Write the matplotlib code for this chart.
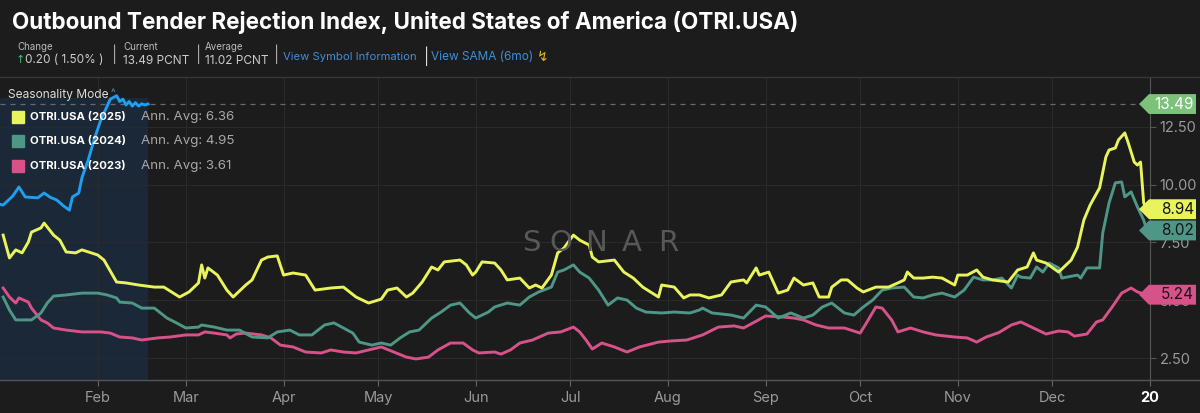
import matplotlib
matplotlib.use("Agg")
import matplotlib.pyplot as plt
from matplotlib.patches import Polygon, Rectangle
from matplotlib.lines import Line2D

plt.rcParams['font.family'] = ['Inter', 'DejaVu Sans']

# day of year (0 = Jan 1) and OTRI values
days_2025 = [1, 3, 5, 7, 9, 10, 13, 14, 17, 19, 21, 24, 26, 31, 33, 37, 40, 44, 49, 52,
             57, 60, 63, 64, 65, 66, 69, 72, 74, 78, 80, 83, 85, 88, 90, 93, 97, 100, 105, 109,
             113, 117, 121, 123, 126, 129, 131, 134, 137, 139, 141, 146, 148, 150, 151, 153, 157, 159, 161, 165,
             168, 170, 172, 175, 177, 179, 182, 184, 187, 188, 190, 195, 198, 201, 204, 209, 210, 214, 217, 219,
             222, 225, 229, 232, 236, 237, 240, 241, 244, 247, 250, 252, 255, 258, 260, 263, 264, 267, 269, 272,
             274, 278, 282, 285, 287, 288, 290, 293, 296, 299, 303, 304, 307, 310, 312, 315, 320, 323, 326, 328,
             329, 332, 336, 340, 342, 344, 346, 349, 351, 352, 354, 355, 357, 358, 360, 361, 362, 363, 364]
otri_2025 = [7.82, 6.83, 7.18, 7.05, 7.52, 7.95, 8.13, 8.34, 7.82, 7.6, 7.09, 7.05, 7.18, 6.96, 6.74, 5.79, 5.75, 5.66, 5.57, 5.57,
             5.14, 5.36, 5.75, 6.53, 5.96, 6.4, 6.09, 5.44, 5.14, 5.66, 5.88, 6.74, 6.87, 6.92, 6.09, 6.18, 6.09, 5.44, 5.53, 5.57,
             5.14, 4.88, 5.05, 5.44, 5.53, 5.14, 5.31, 5.79, 6.44, 6.31, 6.66, 6.74, 6.53, 6.09, 6.22, 6.66, 6.61, 6.31, 5.88, 5.96,
             5.53, 5.66, 5.53, 6.09, 7.05, 7.26, 7.82, 7.6, 7.39, 6.87, 6.66, 6.74, 6.22, 5.96, 5.57, 5.14, 5.66, 5.57, 5.1, 5.23,
             5.23, 5.1, 5.23, 5.79, 5.88, 5.75, 6.4, 6.09, 6.22, 5.31, 5.44, 5.96, 5.66, 5.75, 5.14, 5.14, 5.57, 5.88, 5.88, 5.53,
             5.36, 5.57, 5.57, 5.75, 5.88, 6.22, 5.96, 5.96, 6.0, 5.96, 5.66, 6.09, 6.09, 6.31, 6.0, 5.88, 5.79, 6.31, 6.44, 7.05,
             6.74, 6.61, 6.22, 6.74, 7.3, 8.47, 9.12, 9.86, 11.2, 11.5, 11.59, 11.94, 12.24, 11.85, 10.98, 10.85, 10.98, 9.21, 8.94]

days_2024 = [1, 3, 5, 10, 13, 15, 17, 21, 26, 31, 34, 37, 38, 42, 45, 49, 53, 56, 59, 63,
             64, 68, 72, 76, 80, 85, 88, 92, 95, 99, 103, 106, 109, 112, 114, 118, 121, 124, 127, 130,
             133, 137, 140, 143, 146, 149, 151, 155, 157, 161, 165, 168, 171, 175, 177, 179, 182, 184, 187, 190,
             193, 196, 199, 202, 205, 210, 214, 219, 222, 223, 226, 232, 236, 240, 243, 247, 251, 255, 258, 261,
             264, 268, 271, 274, 277, 280, 283, 287, 290, 293, 296, 299, 303, 306, 309, 312, 315, 318, 321, 323,
             324, 327, 329, 331, 333, 336, 337, 342, 343, 345, 349, 350, 352, 354, 356, 357, 359, 361, 363, 364]
otri_2024 = [5.14, 4.58, 4.15, 4.15, 4.45, 4.88, 5.18, 5.23, 5.31, 5.31, 5.23, 5.1, 4.92, 4.88, 4.66, 4.66, 4.23, 4.02, 3.8, 3.84,
             3.93, 3.84, 3.71, 3.71, 3.41, 3.37, 3.63, 3.71, 3.5, 3.5, 3.93, 4.02, 3.8, 3.58, 3.19, 3.06, 3.15, 3.06, 3.37, 3.63,
             3.71, 4.23, 4.49, 4.79, 4.88, 4.45, 4.23, 4.49, 4.71, 4.88, 4.79, 5.14, 5.36, 5.57, 6.22, 6.31, 6.53, 6.22, 5.96, 5.44,
             4.79, 5.1, 5.01, 4.66, 4.49, 4.45, 4.49, 4.45, 4.58, 4.66, 4.45, 4.36, 4.23, 4.79, 4.71, 4.23, 4.45, 4.23, 4.36, 4.71,
             4.88, 4.45, 4.36, 4.71, 5.01, 5.44, 5.53, 5.57, 5.14, 5.1, 5.23, 5.31, 5.14, 5.44, 6.0, 5.88, 5.88, 5.96, 5.53, 6.09,
             6.0, 5.96, 6.44, 6.22, 6.61, 6.4, 5.96, 6.09, 5.96, 6.4, 6.4, 7.91, 9.21, 10.08, 10.12, 9.47, 9.69, 9.04, 8.47, 8.02]

days_2023 = [1, 3, 5, 6, 9, 10, 13, 15, 17, 21, 26, 32, 35, 38, 42, 45, 50, 54, 59, 63,
             65, 68, 72, 73, 75, 78, 83, 86, 89, 93, 97, 102, 105, 109, 113, 117, 121, 125, 129, 132,
             136, 139, 143, 147, 150, 152, 157, 159, 162, 165, 169, 174, 178, 182, 184, 186, 188, 191, 195, 199,
             203, 209, 213, 218, 223, 228, 233, 236, 239, 243, 248, 252, 255, 259, 263, 268, 273, 275, 278, 280,
             283, 285, 289, 293, 297, 303, 307, 310, 313, 317, 321, 324, 328, 332, 336, 339, 341, 345, 348, 350,
             353, 356, 359, 361, 364]
otri_2023 = [5.53, 5.14, 4.88, 5.1, 4.92, 4.66, 4.15, 4.02, 3.8, 3.71, 3.63, 3.63, 3.58, 3.41, 3.37, 3.28, 3.37, 3.41, 3.5, 3.5,
             3.63, 3.58, 3.5, 3.37, 3.54, 3.58, 3.5, 3.37, 3.06, 2.98, 2.76, 2.72, 2.85, 2.76, 2.72, 2.85, 2.98, 2.76, 2.54, 2.46,
             2.54, 2.85, 3.15, 3.15, 2.85, 2.72, 2.76, 2.67, 2.85, 3.15, 3.28, 3.58, 3.63, 3.84, 3.63, 3.28, 2.89, 3.15, 2.98, 2.76,
             2.98, 3.19, 3.24, 3.28, 3.5, 3.84, 3.89, 3.8, 4.02, 4.32, 4.28, 4.23, 4.15, 3.93, 3.8, 3.8, 3.58, 4.02, 4.71, 4.66,
             4.15, 3.63, 3.8, 3.63, 3.5, 3.41, 3.37, 3.19, 3.41, 3.6, 3.93, 4.06, 3.8, 3.54, 3.67, 3.63, 3.45, 3.54, 4.06, 4.15,
             4.71, 5.31, 5.53, 5.36, 5.24]

days_2026 = [0, 1, 4, 6, 8, 10, 12, 14, 16, 18, 20, 22, 23, 25, 26, 28, 30, 32, 35, 37,
             38, 39, 40, 41, 42, 43, 44, 45, 46, 47]
otri_2026 = [9.15, 9.12, 9.5, 9.9, 9.47, 9.45, 9.43, 9.64, 9.45, 9.34, 9.1, 8.9, 9.47, 9.64, 10.3, 11.07, 12.0, 12.8, 13.7, 13.85,
             13.6, 13.7, 13.45, 13.6, 13.4, 13.55, 13.4, 13.5, 13.45, 13.49]

month_ticks = [31, 59, 90, 120, 151, 181, 212, 243, 273, 304, 334, 365]
month_labels = ['Feb', 'Mar', 'Apr', 'May', 'Jun', 'Jul', 'Aug', 'Sep', 'Oct', 'Nov', 'Dec', '20']
y_ticks = [2.5, 5.0, 7.5, 10.0, 12.5]

legend_names = ['OTRI.USA (2025)', 'OTRI.USA (2024)', 'OTRI.USA (2023)']
legend_avgs = ['Ann. Avg: 6.36', 'Ann. Avg: 4.95', 'Ann. Avg: 3.61']

BG = '#1c1c1c'
YELLOW = '#e9f45c'
TEAL = '#4e9686'
PINK = '#d8528a'
BLUE = '#1f9ff0'
GREEN = '#7cc27a'

W, H = 1200, 413
fig = plt.figure(figsize=(W / 100, H / 100), dpi=100, facecolor=BG)


def fx(px):
    return px / W


def fy(py):
    return 1 - py / H


ax = fig.add_axes([0, fy(380), fx(1150), fy(77) - fy(380)])
ax.set_facecolor(BG)
ymin, ymax = 1.55, 14.66
ax.set_xlim(0, 365)
ax.set_ylim(ymin, ymax)

# current-year shaded window
ax.fill_between([0, days_2026[-1]], ymin, max(otri_2026) - 0.1, color='#1b2838', zorder=0, linewidth=0)

ax.plot(days_2023, otri_2023, color=PINK, lw=2.1, zorder=3)
ax.plot(days_2024, otri_2024, color=TEAL, lw=2.1, zorder=3)
ax.plot(days_2025, otri_2025, color=YELLOW, lw=2.1, zorder=4)
ax.plot(days_2026, otri_2026, color=BLUE, lw=2.1, zorder=5)

ax.axhline(otri_2026[-1], color='#6a6a6a', lw=0.9, ls=(0, (4, 4)), zorder=2)

ax.grid(True, color='#2a2a2a', lw=0.8)
ax.set_axisbelow(True)
for s in ['top', 'left', 'bottom']:
    ax.spines[s].set_visible(False)
ax.spines['right'].set_color('#555555')

ax.yaxis.tick_right()
ax.set_yticks(y_ticks)
ax.set_yticklabels([f'{v:.2f}' for v in y_ticks])
ax.tick_params(axis='y', colors='#555555', labelcolor='#9a9a9a', length=4, pad=3, labelsize=10.5)
ax.set_xticks(month_ticks)
ax.set_xticklabels(month_labels)
ax.tick_params(axis='x', colors='#666666', labelcolor='#9a9a9a', length=4, pad=4, labelsize=10.5)
last = ax.get_xticklabels()[-1]
last.set_color('white')
last.set_fontweight('bold')

# price tags on the right
trans = ax.get_yaxis_transform()
tags = [(otri_2026[-1], GREEN, 'white'), (otri_2025[-1], YELLOW, '#151515'),
        (otri_2024[-1], TEAL, '#151515'), (otri_2023[-1], PINK, '#151515')]
for val, col, tcol in tags:
    h = 0.43
    x0, x1, x2 = 1139 / 1150, 1149 / 1150, 1196 / 1150
    ax.add_patch(Polygon([(x0, val), (x1, val + h), (x2, val + h), (x2, val - h), (x1, val - h)],
                         closed=True, transform=trans, facecolor=col, edgecolor='none',
                         clip_on=False, zorder=6))
    ax.text(1194 / 1150, val, f'{val:.2f}', transform=trans, ha='right', va='center',
            color=tcol, fontsize=11, clip_on=False, zorder=7)

# frame lines across full width
fig.add_artist(Line2D([0, 1], [fy(77), fy(77)], color='#363636', lw=1))
fig.add_artist(Line2D([0, 1], [fy(380), fy(380)], color='#555555', lw=1))

# header
fig.text(fx(12), fy(22), 'Outbound Tender Rejection Index, United States of America (OTRI.USA)',
         color='white', fontsize=16.2, fontweight='bold', va='center')
fig.text(fx(17), fy(47), 'Change', color='#bbbbbb', fontsize=7, va='center')
fig.text(fx(16), fy(60), '↑', color='#3ec47a', fontsize=8, va='center', family=['DejaVu Sans'])
fig.text(fx(25), fy(60), '0.20 ( 1.50% )', color='#cccccc', fontsize=8.5, va='center')
fig.text(fx(112), fy(54), '|', color='#aaaaaa', fontsize=11, va='center')
fig.text(fx(123), fy(47), 'Current', color='#bbbbbb', fontsize=7, va='center')
fig.text(fx(123), fy(61), '13.49 PCNT', color='#cccccc', fontsize=8.5, va='center')
fig.text(fx(196), fy(54), '|', color='#aaaaaa', fontsize=11, va='center')
fig.text(fx(205), fy(47), 'Average', color='#bbbbbb', fontsize=7, va='center')
fig.text(fx(205), fy(61), '11.02 PCNT', color='#cccccc', fontsize=8.5, va='center')
fig.text(fx(274), fy(54), '|', color='#aaaaaa', fontsize=11, va='center')
fig.text(fx(283), fy(57), 'View Symbol Information', color='#3f8fd8', fontsize=8.1, va='center')
fig.text(fx(424), fy(56), '|', color='#dddddd', fontsize=11, va='center')
fig.text(fx(431), fy(57), 'View SAMA (6mo)', color='#3f8fd8', fontsize=8.5, va='center')
fig.text(fx(537), fy(57), '↯', color='#e6b422', fontsize=10, va='center', family=['DejaVu Sans'])

fig.text(fx(8), fy(95), 'Seasonality Mode', color='#dddddd', fontsize=8.6, va='center')
fig.text(fx(111), fy(93), '^', color='#5a8fc8', fontsize=7, va='center')

legend_cols = [YELLOW, TEAL, PINK]
legend_y = [117, 141, 166]
for name, avg, col, py in zip(legend_names, legend_avgs, legend_cols, legend_y):
    fig.add_artist(Rectangle((fx(12), fy(py + 6)), fx(12), fy(py - 6) - fy(py + 6), color=col))
    fig.text(fx(30), fy(py), name, color='white', fontsize=8.2, fontweight='bold', va='center')
    fig.text(fx(141), fy(py), avg, color='#a8a8a8', fontsize=9.6, va='center')

# watermark
for letter, px in zip('SONAR', [531, 561, 596, 632, 668]):
    fig.text(fx(px), fy(243), letter, color='#585858', fontsize=21, ha='center', va='center',
             family=['DejaVu Sans'], zorder=1)

fig.savefig('out.png', dpi=100, facecolor=BG)
